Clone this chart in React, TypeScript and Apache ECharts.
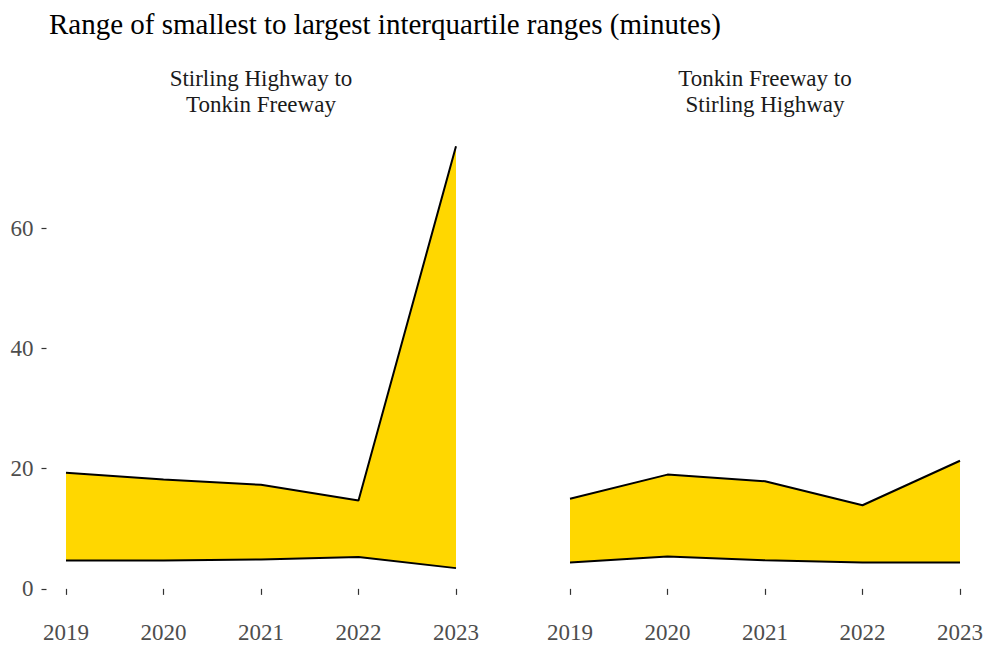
import React, { useEffect, useRef } from "react";
import * as echarts from "echarts";

const years = [2019, 2020, 2021, 2022, 2023];
const panelTitles = ["Stirling Highway to\nTonkin Freeway", "Tonkin Freeway to\nStirling Highway"];
const leftLower = [4.7, 4.7, 4.9, 5.3, 3.45];
const leftUpper = [19.3, 18.2, 17.3, 14.7, 73.6];
const rightLower = [4.4, 5.4, 4.75, 4.4, 4.4];
const rightUpper = [15.0, 19.0, 17.9, 13.9, 21.3];
const yTicks = [0, 20, 40, 60];
const chartTitle = "Range of smallest to largest interquartile ranges (minutes)";

const FONT = "'Liberation Serif', 'Times New Roman', serif";

export default function App() {
  const ref = useRef<HTMLDivElement>(null);
  useEffect(() => {
    if (!ref.current) return;
    const chart = echarts.init(ref.current, null, { renderer: "svg" });
    const panels = [
      { lower: leftLower, upper: leftUpper },
      { lower: rightLower, upper: rightUpper },
    ];
    const gridLefts = [46.5, 550.5];
    const grids = gridLefts.map((l) => ({ left: l, width: 429, top: 124, height: 487 }));
    const xAxes = grids.map((_, i) => ({
      type: "value",
      gridIndex: i,
      min: 2018.8,
      max: 2023.2,
      z: 10,
      axisLine: { show: false },
      splitLine: { show: false },
      axisTick: { show: true, length: 6, customValues: years, lineStyle: { color: "#333", width: 1.2 } },
      axisLabel: {
        customValues: years,
        formatter: (v: number) => String(v),
        margin: 10,
        fontFamily: FONT,
        fontSize: 23,
        color: "#4d4d4d",
      },
    }));
    const yAxes = grids.map((_, i) => ({
      type: "value",
      gridIndex: i,
      min: -3.68,
      max: 77.3,
      z: 10,
      axisLine: { show: false },
      splitLine: { show: false },
      axisTick: { show: i === 0, length: 5, customValues: yTicks, lineStyle: { color: "#333", width: 1.2 } },
      axisLabel: {
        show: i === 0,
        customValues: yTicks,
        margin: 13,
        fontFamily: FONT,
        fontSize: 23,
        color: "#4d4d4d",
      },
    }));
    const series: any[] = [];
    panels.forEach((p, i) => {
      // upper boundary: gold area filled down to zero
      series.push({
        type: "line",
        xAxisIndex: i,
        yAxisIndex: i,
        data: years.map((y, k) => [y, p.upper[k]]),
        symbol: "none",
        lineStyle: { color: "#000", width: 2 },
        areaStyle: { color: "#FFD700", opacity: 1, origin: "auto" },
        z: 2,
      });
      // lower boundary: white area masks the region below the ribbon
      series.push({
        type: "line",
        xAxisIndex: i,
        yAxisIndex: i,
        data: years.map((y, k) => [y, p.lower[k]]),
        symbol: "none",
        lineStyle: { color: "#000", width: 2 },
        areaStyle: { color: "#FFFFFF", opacity: 1, origin: "start" },
        z: 3,
      });
    });
    chart.setOption({
      animation: false,
      backgroundColor: "#fff",
      title: {
        text: chartTitle,
        left: 44,
        top: 4,
        textStyle: { fontFamily: FONT, fontSize: 29, fontWeight: "normal", color: "#000" },
      },
      graphic: panelTitles.map((t, i) => ({
        type: "text",
        x: gridLefts[i] + 214.5,
        y: 65,
        style: {
          text: t,
          fontFamily: FONT,
          fontSize: 23,
          lineHeight: 26,
          fill: "#1a1a1a",
          align: "center",
          verticalAlign: "top",
        },
      })),
      grid: grids,
      xAxis: xAxes,
      yAxis: yAxes,
      series,
    });
    return () => chart.dispose();
  }, []);
  return <div ref={ref} style={{ width: 987, height: 653, position: "absolute", left: 0, top: 0 }} />;
}
